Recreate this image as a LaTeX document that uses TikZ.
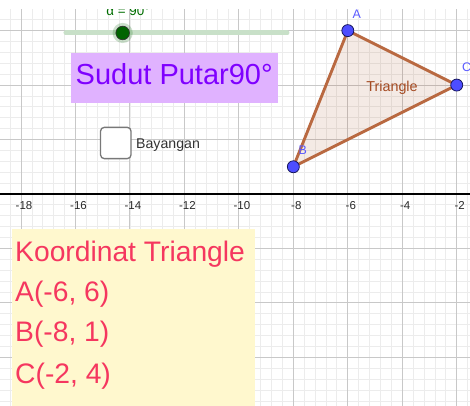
\documentclass[tikz,border=0pt]{standalone}
\usepackage{fontspec}
\setmainfont{Liberation Sans}
\definecolor{gridminor}{RGB}{236,236,236}
\definecolor{gridmajor}{RGB}{200,200,200}
\definecolor{ticktext}{RGB}{40,40,40}
\definecolor{triedgec}{RGB}{185,105,65}
\definecolor{trifillc}{RGB}{153,51,0}
\definecolor{tritext}{RGB}{165,75,35}
\definecolor{ptblue}{RGB}{77,77,255}
\definecolor{ptborder}{RGB}{20,20,90}
\definecolor{ptlabel}{RGB}{90,90,255}
\definecolor{sliderc}{RGB}{200,224,200}
\definecolor{sliderdotc}{RGB}{0,100,0}
\definecolor{slidertext}{RGB}{0,110,0}
\definecolor{purplebg}{RGB}{224,178,255}
\definecolor{purpletext}{RGB}{127,0,255}
\definecolor{yellowbg}{RGB}{255,248,206}
\definecolor{yellowtext}{RGB}{245,55,95}
\definecolor{boxgray}{RGB}{120,120,120}
\definecolor{labelgray}{RGB}{50,50,50}
\begin{document}
\begin{tikzpicture}[x=1cm,y=1cm,
  ticklab/.style={inner sep=0pt, text=ticktext, font=\fontsize{12}{14}\selectfont},
  triedge/.style={draw=triedgec, line width=3pt, line join=round},
  trifill/.style={fill=trifillc, fill opacity=0.1},
  ptnode/.style={circle, inner sep=0pt, minimum size=0.44cm, fill=ptblue, draw=ptborder, line width=0.8pt},
  ptlab/.style={inner sep=0pt, text=ptlabel, font=\fontsize{13}{15}\selectfont},
  sliderline/.style={draw=sliderc, line width=5.2pt, line cap=round},
  sliderdot/.style={circle, inner sep=0pt, minimum size=0.5cm, fill=sliderdotc, draw=black!80, line width=0.7pt},
  boxtext/.style={inner sep=0pt, anchor=base west}
]
\useasboundingbox (-18.773,-7.749) rectangle (-1.513,7.124);
\clip (-18.773,-7.749) rectangle (-1.513,7.124);
\fill[white] (-18.773,-7.749) rectangle (-1.513,7.124);
% grid
\draw[gridminor, line width=0.9pt, step=0.4] (-20,-8.4) grid (0,8);
\draw[gridmajor, line width=1.1pt, step=2] (-20,-10) grid (0,8);
% axis
\coordinate (axL) at (-19,0);
\coordinate (axR) at (0,0);
\draw[black, line width=1.3pt] (axL) -- (axR);
\foreach \v in {-18,-16,...,-2}{
  \node[ticklab] (t\v) at (\v+0.11,-0.42) {\v};
}
% triangle
\coordinate (A) at (-6,6);
\coordinate (B) at (-8,1);
\coordinate (C) at (-2,4);
\fill[trifill] (A) -- (B) -- (C) -- cycle;
\draw[triedge] (A) -- (B) -- (C) -- cycle;
\node[inner sep=0pt, text=tritext, font=\fontsize{15}{17}\selectfont] (tri) at (-4.377,3.918) {Triangle};
\node[ptnode] (pA) at (A) {};
\node[ptnode] (pB) at (B) {};
\node[ptnode] (pC) at (C) {};
\node[ptlab] (lA) at (-5.674,6.61) {A};
\node[ptlab] (lB) at (-7.657,1.616) {B};
\node[ptlab] (lC) at (-1.634,4.664) {C};
% slider
\coordinate (s1) at (-16.35,5.913);
\coordinate (s2) at (-8.233,5.913);
\draw[sliderline] (s1) -- (s2);
\fill[sliderdotc, opacity=0.2] (-14.267,5.913) circle (0.37);
\node[sliderdot] (sd) at (-14.267,5.913) {};
\node[inner sep=0pt, anchor=base, text=slidertext, font=\fontsize{14}{16}\selectfont] (alab) at (-14.07,6.54) {α = 90°};
% white strip at the top edge
\fill[white] (-19,6.776) rectangle (0,7.3);
% purple text box
\fill[purplebg] (-16.166,3.331) rectangle (-8.575,5.167);
\node[boxtext, text=purpletext, font=\fontsize{30.3}{34}\selectfont] (sudut) at (-16.0,4.003) {Sudut Putar90°};
% checkbox
\node[draw=boxgray, line width=1.4pt, rounded corners=4pt, fill=white, minimum width=1.12cm, minimum height=1.15cm, inner sep=0pt] (cb) at (-14.521,1.873) {};
\node[inner sep=0pt, anchor=west, text=labelgray, font=\fontsize{14.8}{16}\selectfont] (bay) at (-13.779,1.80) {Bayangan};
% yellow box
\fill[yellowbg] (-18.344,-8) rectangle (-9.426,-1.296);
\node[boxtext, text=yellowtext, font=\fontsize{29.5}{34}\selectfont] (k0) at (-18.22,-2.486) {Koordinat Triangle};
\node[boxtext, text=yellowtext, font=\fontsize{29.5}{34}\selectfont] (k1) at (-18.22,-3.955) {A(-6, 6)};
\node[boxtext, text=yellowtext, font=\fontsize{29.5}{34}\selectfont] (k2) at (-18.22,-5.424) {B(-8, 1)};
\node[boxtext, text=yellowtext, font=\fontsize{29.5}{34}\selectfont] (k3) at (-18.22,-6.941) {C(-2, 4)};
\end{tikzpicture}
\end{document}
